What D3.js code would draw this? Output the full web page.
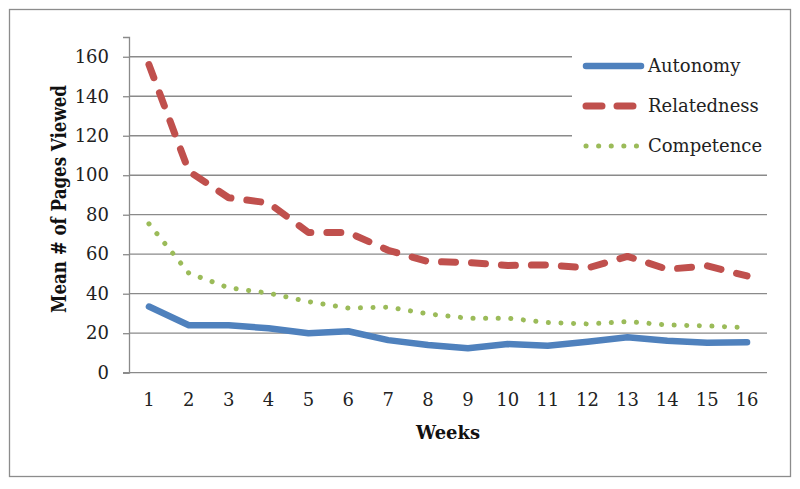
<!DOCTYPE html>
<html><head><meta charset="utf-8">
<script src="https://cdn.jsdelivr.net/npm/d3@7"></script>
<style>body{margin:0;background:#fff}</style>
</head><body>
<script>
const weeks = ["1","2","3","4","5","6","7","8","9","10","11","12","13","14","15","16"];
const autonomy = [33.5,24,24,22.5,20,21,16.5,14,12.4,14.5,13.7,15.7,18,16.2,15.2,15.4];
const relatedness = [156,102,88.6,86,71,71,62,56.3,55.8,54.3,54.6,53,58.9,52.4,54.1,49];
const competence = [75.4,50.4,43,40.3,36,32.7,33.2,29.8,27.6,27.6,25.4,24.7,25.9,24.2,23.7,22.8];
const yTicks = [0,20,40,60,80,100,120,140,160];
const seriesNames = ["Autonomy","Relatedness","Competence"];
const colors = ["#4F81BD","#C0504D","#9BBB59"];

(function(){
const W = 800, H = 489;
const svg = d3.select("body").append("svg").attr("width", W).attr("height", H);
const font = "'DejaVu Serif', serif";

svg.append("rect").attr("x", 9.5).attr("y", 9.5).attr("width", 781).attr("height", 467)
  .attr("fill", "#fff").attr("stroke", "#8c8c8c").attr("stroke-width", 1.3);

const pL = 129, pR = 767, pT = 37, pB = 372.7;
const x = d3.scaleBand().domain(weeks).range([pL, pR]);
const y = d3.scaleLinear().domain([0, 170]).range([pB, pT]);

svg.append("g").selectAll("line").data(yTicks.filter(d => d > 0)).join("line")
  .attr("x1", pL).attr("x2", pR).attr("y1", d => y(d)).attr("y2", d => y(d))
  .attr("stroke", "#8a8a8a").attr("stroke-width", 1.3);

const yAxis = d3.axisLeft(y).tickValues(yTicks).tickSize(6).tickPadding(14);
const gy = svg.append("g").attr("transform", `translate(${pL},0)`).call(yAxis);
gy.select(".domain").attr("stroke", "#8a8a8a").attr("stroke-width", 1.3);
gy.selectAll(".tick line").attr("stroke", "#8a8a8a").attr("stroke-width", 1.3);
gy.selectAll("text").attr("font-family", font).attr("font-size", 18).attr("fill", "#222");

const xAxis = d3.axisBottom(x).tickSize(0).tickPadding(21);
const gx = svg.append("g").attr("transform", `translate(0,${pB})`).call(xAxis);
gx.select(".domain").attr("stroke", "#8a8a8a").attr("stroke-width", 1.3).attr("d", `M${pL-6},0H${pR}`);
gx.selectAll("text").attr("font-family", font).attr("font-size", 18).attr("fill", "#222");

svg.append("text").attr("transform", `translate(66,199) rotate(-90)`)
  .attr("text-anchor", "middle").attr("font-family", font).attr("font-weight", "bold")
  .attr("font-size", 20).attr("textLength", 228).attr("lengthAdjust", "spacingAndGlyphs")
  .attr("fill", "#111").text("Mean # of Pages Viewed");
svg.append("text").attr("x", 448).attr("y", 439).attr("text-anchor", "middle")
  .attr("font-family", font).attr("font-weight", "bold").attr("font-size", 19)
  .attr("textLength", 64).attr("lengthAdjust", "spacingAndGlyphs")
  .attr("fill", "#111").text("Weeks");

const styles = [
  {w: 6.5, dash: null},
  {w: 7, dash: "14 16"},
  {w: 5, dash: "0.1 12.5"}
];
const data = [autonomy, relatedness, competence];
const line = d3.line().x((d, i) => x(weeks[i]) + x.bandwidth() / 2).y(d => y(d));

svg.append("rect").attr("x", 572).attr("y", 44).attr("width", 196).attr("height", 120).attr("fill", "#fff");

[2, 1, 0].forEach(k => {
  svg.append("path").datum(data[k]).attr("d", line).attr("fill", "none")
    .attr("stroke", colors[k]).attr("stroke-width", styles[k].w)
    .attr("stroke-linecap", "round").attr("stroke-linejoin", "round")
    .attr("stroke-dasharray", styles[k].dash);
});

const lg = svg.append("g");
seriesNames.forEach((name, k) => {
  const ly = 66 + k * 40;
  lg.append("line").attr("x1", 586).attr("x2", k === 2 ? 638 : 641)
    .attr("y1", ly).attr("y2", ly).attr("stroke", colors[k]).attr("stroke-width", styles[k].w)
    .attr("stroke-linecap", "round").attr("stroke-dasharray", k === 1 ? "16 15" : styles[k].dash);
  lg.append("text").attr("x", 648).attr("y", ly + 6).attr("font-family", font)
    .attr("font-size", 18).attr("fill", "#222").text(name);
});
})();
</script>
</body></html>
